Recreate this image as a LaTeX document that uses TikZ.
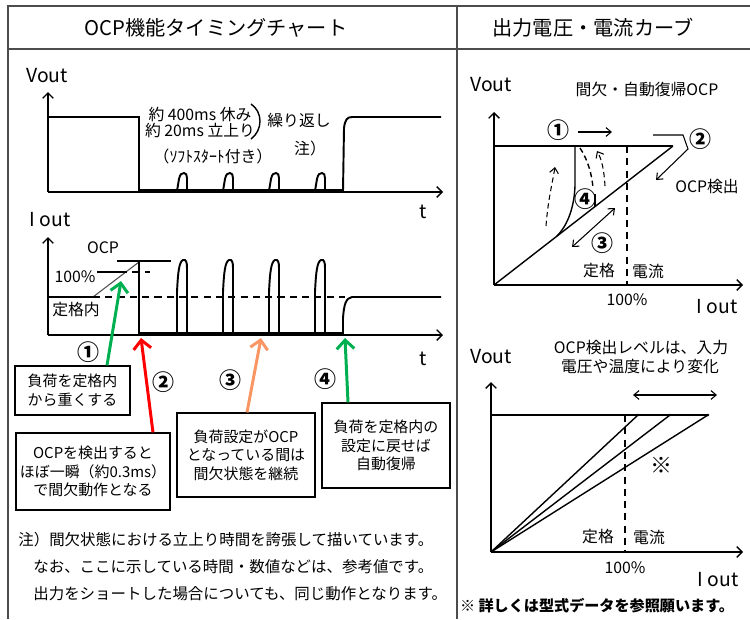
\documentclass[tikz,border=0pt]{standalone}
\usepackage{fontspec}
\setmainfont{Noto Sans CJK JP}
\usepackage{tikz}
\usetikzlibrary{arrows.meta}

\definecolor{ocpgreen}{RGB}{0,176,80}
\definecolor{ocporange}{RGB}{250,150,100}

\tikzset{
	frm/.style={line width=1pt, color=black!70},
	axarr/.style={line width=0.8pt, -{Straight Barb[length=3pt,width=6pt]}},
	sig/.style={line width=1.1pt},
	low/.style={line width=2pt},
	med/.style={line width=0.8pt},
	hair/.style={line width=0.6pt, color=black!70},
	dsh/.style={line width=0.8pt, dash pattern=on 4pt off 3pt},
	txt/.style={inner sep=0pt, font=\fontsize{9}{11}\selectfont},
	ttl/.style={inner sep=0pt, font=\fontsize{11.5}{14}\selectfont},
	axl/.style={inner sep=0pt, font=\fontsize{11}{13}\selectfont},
	num/.style={inner sep=0pt, font=\fontsize{12.5}{14}\selectfont\bfseries},
	nt/.style={inner sep=0pt, anchor=west, font=\fontsize{8.8}{11}\selectfont},
	cbox/.style={draw, line width=0.7pt, inner sep=0pt, align=center, font=\fontsize{8.5}{10.6}\selectfont},
	call/.style={line width=1.7pt, -{Straight Barb[length=5pt,width=10pt]}},
	dblarr/.style={line width=0.6pt, {Straight Barb[length=3pt,width=5pt]}-{Straight Barb[length=3pt,width=5pt]}},
	onearr/.style={line width=0.6pt, -{Straight Barb[length=3pt,width=5pt]}},
}

\begin{document}
\begin{tikzpicture}[x=0.02cm, y=-0.02cm]
		%%%%% START %%%%%
		\useasboundingbox (0,0) rectangle (750,619);
		
		% frame and titles
		\draw[frm] (750,6) -- (8,6) -- (8,619);
		\draw[frm] (8,49) -- (750,49);
		\draw[frm] (457,6) -- (457,619);
		\node[ttl] (ttlL) at (216,28) {OCP機能タイミングチャート};
		\node[ttl] (ttlR) at (593,28) {出力電圧・電流カーブ};
		
		% Vout - t
		\draw[axarr] (48,192) -- (48,92);
		\draw[axarr] (48,192) -- (443,192);
		\node[axl] (voutA) at (47,76) {Vout};
		\node[axl] (tA) at (423,212) {t};
		\draw[sig] (48,117) -- (139,117) -- (139,191);
		\draw[low] (139,191) -- (343,191);
		\draw[sig] (177,191) -- (179,179) .. controls (180,174) and (182,173) .. (184,173) .. controls (186,173) and (187,175) .. (187,178) -- (187,191);
		\draw[sig] (223,191) -- (225,179) .. controls (226,174) and (228,173) .. (230,173) .. controls (232,173) and (233,175) .. (233,178) -- (233,191);
		\draw[sig] (269,191) -- (271,179) .. controls (272,174) and (274,173) .. (276,173) .. controls (278,173) and (279,175) .. (279,178) -- (279,191);
		\draw[sig] (315,191) -- (317,179) .. controls (318,174) and (320,173) .. (322,173) .. controls (324,173) and (325,175) .. (325,178) -- (325,191);
		\draw[sig] (343,191) -- (344,128) .. controls (345,120) and (347,117) .. (352,117) -- (441,117);
		
		\node[txt] (rest) at (200,114) {約 400ms 休み};
		\node[txt] (rise) at (200,130) {約 20ms 立上り};
		\draw[med] (251,104) .. controls (263,112) and (263,130) .. (251,139);
		\node[txt] (rept) at (299,120) {繰り返し};
		\node[txt] (chu) at (310,148) {注）};
		\node[txt] (soft) at (213,156) {（ｿﾌﾄｽﾀｰﾄ付き）};
		
		% Iout - t
		\draw[axarr] (48,335) -- (48,237);
		\draw[axarr] (48,335) -- (443,335);
		\node[axl] (ioutA) at (50,220) {I out};
		\node[axl] (tB) at (423,359) {t};
		\draw[sig] (48,297) -- (93,297);
		\draw[hair] (93,297) -- (139,262);
		\draw[dsh] (93,297) -- (345,297);
		\draw[sig] (97,272) -- (120,272);
		\draw[dsh] (120,272) -- (150,272);
		\draw[sig] (117,261) -- (171,261);
		\draw[sig] (139,261) -- (139,334);
		\draw[low] (139,334) -- (343,334);
		\draw[sig] (177,334) -- (177,292) .. controls (178,272) and (179,262) .. (183,260) .. controls (186,259) and (187,262) .. (187,268) -- (187,334);
		\draw[sig] (223,334) -- (223,292) .. controls (224,272) and (225,262) .. (229,260) .. controls (232,259) and (233,262) .. (233,268) -- (233,334);
		\draw[sig] (269,334) -- (269,292) .. controls (270,272) and (271,262) .. (275,260) .. controls (278,259) and (279,262) .. (279,268) -- (279,334);
		\draw[sig] (315,334) -- (315,292) .. controls (316,272) and (317,262) .. (321,260) .. controls (324,259) and (325,262) .. (325,268) -- (325,334);
		\draw[sig] (343,334) -- (343,318) .. controls (344,304) and (346,298) .. (352,297) -- (441,297);
		
		\node[txt] (ocpL) at (103,248) {OCP};
		\node[txt] (pctL) at (75,277) {100\%};
		\node[txt] (ratedL) at (76,310) {定格内};
		
		% steps
		\node[num] (n1) at (88,352) {①};
		\node[num] (n2) at (163,382) {②};
		\node[num] (n3) at (230,380) {③};
		\node[num] (n4) at (325,379) {④};
		
		\node[cbox, minimum width=2.3cm, minimum height=0.98cm] (box1) at (72.5,390.5) {負荷を定格内\\から重くする};
		\node[cbox, minimum width=3.08cm, minimum height=1.54cm] (box2) at (93,471.5) {OCPを検出すると\\ほぼ一瞬（約0.3ms）\\で間欠動作となる};
		\node[cbox, minimum width=2.76cm, minimum height=1.68cm] (box3) at (246,455) {負荷設定がOCP\\となっている間は\\間欠状態を継続};
		\node[cbox, minimum width=2.56cm, minimum height=1.7cm] (box4) at (386,445.5) {負荷を定格内の\\設定に戻せば\\自動復帰};
		
		\coordinate (tip1) at (121,281);
		\coordinate (tip2) at (141,338);
		\coordinate (tip3) at (261,338);
		\coordinate (tip4) at (345,338);
		\draw[call, color=ocpgreen] ([xshift=0.69cm]box1.north) -- (tip1);
		\draw[call, color=red] ([xshift=1.2cm]box2.north) -- (tip2);
		\draw[call, color=ocporange] ([xshift=0.02cm]box3.north) -- (tip3);
		\draw[call, color=ocpgreen] ([xshift=-0.76cm]box4.north) -- (tip4);
		
		\node[nt] (note1) at (18,540) {注）間欠状態における立上り時間を誇張して描いています。};
		\node[nt] (note2) at (33,567) {なお、ここに示している時間・数値などは、参考値です。};
		\node[nt] (note3) at (33,594) {出力をショートした場合についても、同じ動作となります。};
		
		% Vout - Iout, intermittent OCP
		\draw[axarr] (494,285) -- (494,112);
		\draw[axarr] (494,285) -- (743,285);
		\node[axl] (voutB) at (491,85) {Vout};
		\node[axl] (ioutB) at (717,307) {I out};
		\node[txt] (hicc) at (647,89) {間欠・自動復帰OCP};
		\draw[sig] (494,146) -- (673,146);
		\draw[med] (494,285) -- (673,146);
		\draw[dsh] (627,146) -- (627,285);
		\draw[med] (575,146) -- (575,186) .. controls (574,212) and (565,228) .. (557,236);
		\draw[med] (595,194) -- (595,207);
		\draw[onearr, dash pattern=on 3pt off 2pt] (546,226) .. controls (548,200) and (552,185) .. (555,167);
		\draw[med, dash pattern=on 3pt off 2pt] (580,148) .. controls (588,160) and (592,175) .. (593,188);
		\draw[onearr, dash pattern=on 3pt off 2pt] (605,186) .. controls (604,170) and (602,160) .. (597,151);
		\draw[dblarr] (572,247) -- (615,208);
		\draw[onearr] (578,132) -- (612,132);
		\draw[onearr] (653,135) -- (683,135) -- (688,149) -- (656,180);
		\node[num] (r1) at (558,130) {①};
		\node[num] (r2) at (700,139) {②};
		\node[num] (r4) at (585,199) {④};
		\node[num] (r3) at (602,243) {③};
		\node[txt] (det) at (707,187) {OCP検出};
		\node[txt] (ratedA) at (599,271) {定格};
		\node[txt] (currA) at (648,271) {電流};
		\node[txt] (pctA) at (627,300) {100\%};
		
		% Vout - Iout, detection level
		\draw[axarr] (491,552) -- (491,382);
		\draw[axarr] (491,552) -- (743,552);
		\node[axl] (voutC) at (491,357) {Vout};
		\node[axl] (ioutC) at (718,580) {I out};
		\node[txt] (lvl1) at (641,348) {OCP検出レベルは、入力};
		\node[txt] (lvl2) at (640,367) {電圧や温度により変化};
		\draw[dblarr] (633,395) -- (717,395);
		\draw[sig] (491,415) -- (708,415);
		\draw[med] (491,552) -- (638,415);
		\draw[med] (491,552) -- (670,415);
		\draw[med] (491,552) -- (708,415);
		\fill (638,415) circle (1.3);
		\fill (670,415) circle (1.3);
		\fill (708,415) circle (1.3);
		\draw[dsh] (625,415) -- (625,552);
		\node[num] (mark) at (661,465) {※};
		\node[txt] (ratedB) at (598,537) {定格};
		\node[txt] (currB) at (649,537) {電流};
		\node[txt] (pctB) at (625,568) {100\%};
		\node[inner sep=0pt, font=\fontsize{8.6}{10}\selectfont\bfseries] (detail) at (597,606) {※ 詳しくは型式データを参照願います。};
		
		%%%%% END %%%%%
\end{tikzpicture}
\end{document}
